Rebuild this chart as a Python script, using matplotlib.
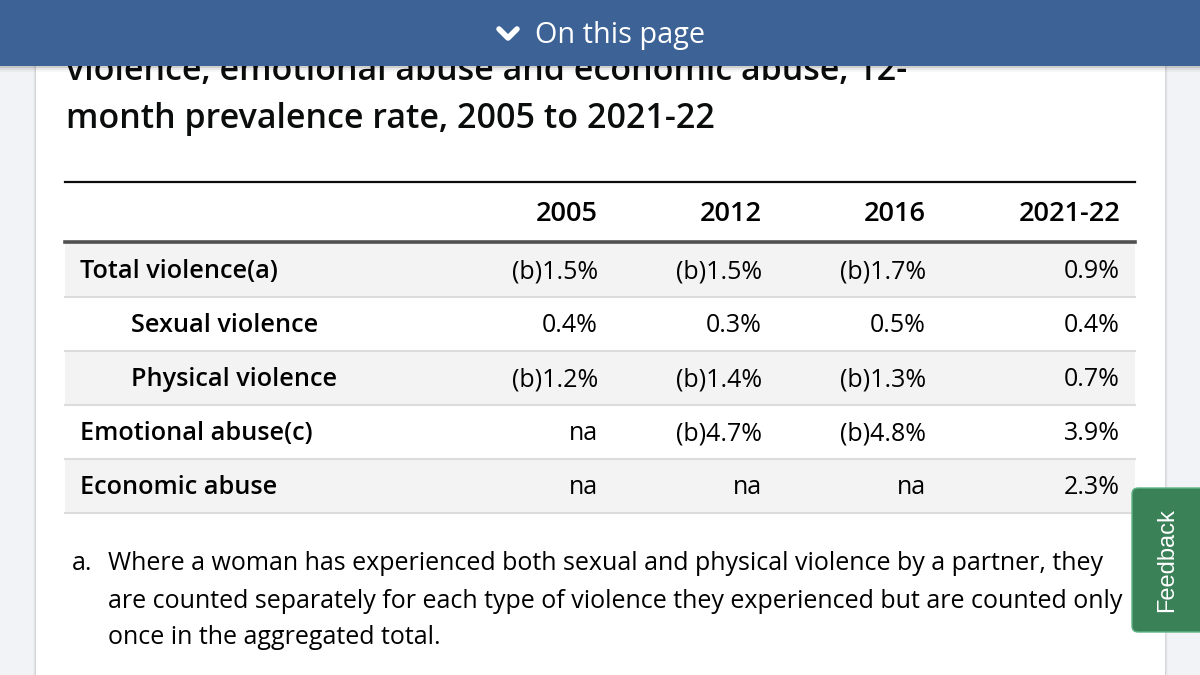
import matplotlib.pyplot as plt
from matplotlib.patches import Rectangle, FancyBboxPatch

# table content
title_lines = ["violence, emotional abuse and economic abuse, 12-",
               "month prevalence rate, 2005 to 2021-22"]
columns = ["2005", "2012", "2016", "2021-22"]
row_labels = ["Total violence(a)", "Sexual violence", "Physical violence",
              "Emotional abuse(c)", "Economic abuse"]
row_indent = [0, 1, 1, 0, 0]
values = [
    ["(b)1.5%", "(b)1.5%", "(b)1.7%", "0.9%"],
    ["0.4%", "0.3%", "0.5%", "0.4%"],
    ["(b)1.2%", "(b)1.4%", "(b)1.3%", "0.7%"],
    ["na", "(b)4.7%", "(b)4.8%", "3.9%"],
    ["na", "na", "na", "2.3%"],
]
footnote = ["Where a woman has experienced both sexual and physical violence by a partner, they",
            "are counted separately for each type of violence they experienced but are counted only",
            "once in the aggregated total."]

plt.rcParams['font.family'] = ['Open Sans', 'DejaVu Sans']

fig = plt.figure(figsize=(12, 6.75), dpi=100)
ax = fig.add_axes([0, 0, 1, 1])
ax.set_xlim(0, 1200)
ax.set_ylim(675, 0)
ax.axis('off')

# page background and card
ax.add_patch(Rectangle((0, 0), 1200, 675, color='#f2f3f6', zorder=0))
for i, a in enumerate([0.06, 0.04, 0.02]):
    ax.add_patch(Rectangle((36 - i - 1, 0), 1129 + 2 * (i + 1), 675, color='black', alpha=a, zorder=0.5, lw=0))
ax.add_patch(Rectangle((36, 0), 1129, 675, color='white', zorder=1, lw=0))

# title (top line mostly hidden under bar)
ax.text(66, 80, title_lines[0], fontsize=24.5, fontweight='semibold', color='#0b0c0c', zorder=2)
ax.text(66, 128, title_lines[1], fontsize=24.5, fontweight='semibold', color='#0b0c0c', zorder=2)

# top bar
for i, a in enumerate([0.10, 0.06, 0.03]):
    ax.add_patch(Rectangle((0, 66), 1200, 2 + i * 2, color='black', alpha=a, zorder=9, lw=0))
ax.add_patch(Rectangle((0, 0), 1200, 66, color='#3d6296', zorder=10, lw=0))
ax.plot([499, 508, 517], [29, 38, 29], color='white', lw=4, solid_capstyle='round',
        solid_joinstyle='round', zorder=11)
ax.text(535, 35, "On this page", fontsize=20.8, color='white', va='center', zorder=11)

# table
left, right = 65, 1135
col_right = [598, 762, 926, 1120]
row_top = 243
row_h = 54
ax.plot([left, right], [182, 182], color='#0b0c0c', lw=1.6, zorder=3)
for x, c in zip(col_right, columns):
    ax.text(x, 214, c, fontsize=19.5, fontweight='semibold', ha='right', va='center', zorder=3)
for i, (lab, ind, vals) in enumerate(zip(row_labels, row_indent, values)):
    y0 = row_top + i * row_h
    if i % 2 == 0:
        ax.add_patch(Rectangle((left, y0), right - left, row_h, color='#f3f3f3', zorder=2, lw=0))
    ax.plot([left, right], [y0 + row_h, y0 + row_h], color='#dcdcdc', lw=1.5, zorder=3)
    yc = y0 + row_h / 2 + 2
    ax.text(80 + 51 * ind, yc, lab, fontsize=18.2, fontweight='semibold', va='center', zorder=3)
    for x, v in zip(col_right, vals):
        ax.text(x, yc, v, fontsize=18, ha='right', va='center', zorder=3)
ax.plot([left, right], [241.5, 241.5], color='#505050', lw=2.6, zorder=4)

# footnote
ax.text(72, 564, "a.", fontsize=18, va='center', zorder=3)
for j, line in enumerate(footnote):
    ax.text(108, 564 + j * 37, line, fontsize=18, va='center', zorder=3)

# feedback tab
ax.add_patch(FancyBboxPatch((1136, 492), 80, 136, boxstyle='round,pad=4,rounding_size=6',
                            fc='#3a8158', ec='#5fb584', lw=1, zorder=12))
ax.text(1167, 560, "Feedback", fontsize=17, color='white', rotation=90, ha='center', va='center',
        family=['Liberation Sans', 'DejaVu Sans'], zorder=13)

fig.savefig('out.png', dpi=100)
